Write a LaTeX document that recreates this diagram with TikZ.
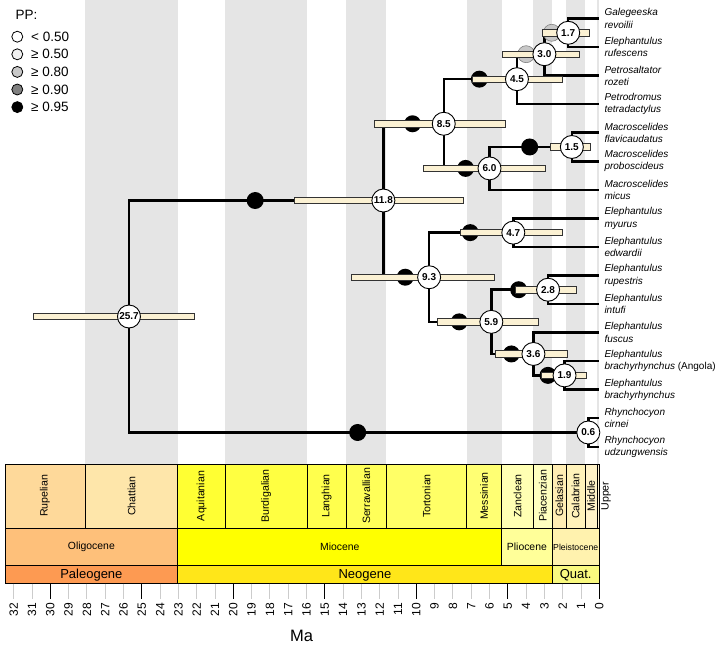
\documentclass[tikz,border=0pt]{standalone}
\usepackage{fontspec}
\setmainfont{Liberation Sans}
\usetikzlibrary{calc}
\definecolor{bandgray}{HTML}{E5E5E5}
\definecolor{hpdfill}{HTML}{FBF1D3}
\definecolor{hpdline}{HTML}{333333}
\definecolor{ppfifty}{HTML}{F0F0F0}
\definecolor{ppeighty}{HTML}{C8C8C8}
\definecolor{ppninety}{HTML}{808080}
\definecolor{minorgray}{HTML}{CCCCCC}
% ICS colours
\definecolor{cPaleogene}{HTML}{FD9A52}
\definecolor{cNeogene}{HTML}{FFE619}
\definecolor{cQuat}{HTML}{F9F97F}
\definecolor{cOligocene}{HTML}{FEC07A}
\definecolor{cMiocene}{HTML}{FFFF00}
\definecolor{cPliocene}{HTML}{FFFF99}
\definecolor{cPleistocene}{HTML}{FFF2AE}
\definecolor{cRupelian}{HTML}{FED99A}
\definecolor{cChattian}{HTML}{FEE6AA}
\definecolor{cAquitanian}{HTML}{FFFF33}
\definecolor{cBurdigalian}{HTML}{FFFF41}
\definecolor{cLanghian}{HTML}{FFFF4D}
\definecolor{cSerravallian}{HTML}{FFFF59}
\definecolor{cTortonian}{HTML}{FFFF66}
\definecolor{cMessinian}{HTML}{FFFF73}
\definecolor{cZanclean}{HTML}{FFFFB3}
\definecolor{cPiacenzian}{HTML}{FFFFBF}
\definecolor{cGelasian}{HTML}{FFEDB3}
\definecolor{cCalabrian}{HTML}{FFF2BA}
\definecolor{cMiddle}{HTML}{FFF2C7}
\definecolor{cUpper}{HTML}{FFF2D3}
\newcommand{\ageX}[1]{(599.3-18.3*(#1))}
\begin{document}
\begin{tikzpicture}[x=1pt,y=-1pt,
  branch/.style={line width=2.5pt, line join=miter},
  hpdbar/.style={draw=hpdline, fill=hpdfill, line width=0.8pt},
  agenode/.style={circle, draw=black, fill=white, line width=0.9pt, minimum size=23pt, inner sep=0pt, font=\fontsize{10}{10}\selectfont\bfseries},
  ppblack/.style={circle, fill=black, minimum size=17pt, inner sep=0pt},
  ppgray/.style={circle, fill=ppeighty, draw=gray, line width=0.6pt, minimum size=17pt, inner sep=0pt},
  legcirc/.style={circle, draw=black, line width=0.8pt, minimum size=11pt, inner sep=0pt},
  legtext/.style={anchor=west, inner sep=0pt, font=\fontsize{13.5}{14}\selectfont},
  tiplab/.style={anchor=west, align=left, inner sep=0pt, font=\fontsize{10}{12.3}\selectfont\itshape},
  tsbox/.style={draw=black, line width=0.8pt},
  stagelab/.style={rotate=90, inner sep=0pt, font=\fontsize{10.6}{11}\selectfont},
  epochlab/.style={inner sep=0pt, font=\fontsize{10.4}{11}\selectfont},
  periodlab/.style={inner sep=0pt, font=\fontsize{13}{14}\selectfont},
  ticklab/.style={rotate=90, anchor=east, inner sep=0pt, font=\fontsize{12}{13}\selectfont}
]
\useasboundingbox (0,0) rectangle (720,648);

% background stage bands
\foreach \a/\b in {28.1/23.03, 20.44/15.97, 13.82/11.63, 7.246/5.333, 3.6/2.58, 1.8/0.781, 0.126/0}
  \fill[bandgray] ({\ageX{\a}},0) rectangle ({\ageX{\b}},464);

% tips
\coordinate (t1) at (599.3,18.5);
\coordinate (t2) at (599.3,47.05);
\coordinate (t3) at (599.3,75.6);
\coordinate (t4) at (599.3,104.15);
\coordinate (t5) at (599.3,132.7);
\coordinate (t6) at (599.3,161.25);
\coordinate (t7) at (599.3,189.8);
\coordinate (t8) at (599.3,218.35);
\coordinate (t9) at (599.3,246.9);
\coordinate (t10) at (599.3,275.45);
\coordinate (t11) at (599.3,304.0);
\coordinate (t12) at (599.3,332.55);
\coordinate (t13) at (599.3,361.1);
\coordinate (t14) at (599.3,389.65);
\coordinate (t15) at (599.3,418.2);
\coordinate (t16) at (599.3,446.75);

% internal nodes
\coordinate (c17) at ({\ageX{1.7}},32.78);
\coordinate (c30) at ({\ageX{3.0}},54.19);
\coordinate (c45) at ({\ageX{4.5}},79.17);
\coordinate (c15) at ({\ageX{1.5}},146.98);
\coordinate (c60) at ({\ageX{6.0}},168.39);
\coordinate (c85) at ({\ageX{8.5}},123.78);
\coordinate (c47) at ({\ageX{4.7}},232.63);
\coordinate (c28) at ({\ageX{2.8}},289.73);
\coordinate (c19) at ({\ageX{1.9}},375.38);
\coordinate (c36) at ({\ageX{3.6}},353.96);
\coordinate (c59) at ({\ageX{5.9}},321.85);
\coordinate (c93) at ({\ageX{9.3}},277.24);
\coordinate (c118) at ({\ageX{11.8}},200.51);
\coordinate (c06) at ({\ageX{0.6}},432.48);
\coordinate (c257) at ({\ageX{25.7}},316.5);

% branches
\foreach \p/\c in {c257/c118, c257/c06, c118/c85, c118/c93, c85/c45, c85/c60,
  c45/c30, c45/t4, c30/c17, c30/t3, c17/t1, c17/t2, c60/c15, c60/t7, c15/t5, c15/t6,
  c93/c47, c93/c59, c47/t8, c47/t9, c59/c28, c59/c36, c28/t10, c28/t11,
  c36/t12, c36/c19, c19/t13, c19/t14, c06/t15, c06/t16}
  \draw[branch] (\p) |- (\c);

% posterior probability circles
\foreach \p/\c in {c257/c118, c257/c06, c118/c85, c118/c93, c85/c45, c85/c60,
  c60/c15, c93/c47, c93/c59, c59/c28, c59/c36, c36/c19}
  \node[ppblack] (pp-\p-\c) at ($(\p |- \c)!0.5!(\c)+(-1,0)$) {};
\foreach \p/\c in {c45/c30, c30/c17}
  \node[ppgray] (pp-\p-\c) at ($(\p |- \c)!0.5!(\c)+(-4.5,0)$) {};

% HPD bars
\foreach \a/\b/\y in {33.7/194.3/316.5, 294/463/200.51, 374.3/505.3/123.78,
  423.3/545/168.39, 472/562.3/79.17, 502.5/579.3/54.19, 542.3/589.3/32.78,
  550.7/590/146.98, 351.7/494.3/277.24, 460/562.7/232.63, 437.7/538.3/321.85,
  515.7/576/289.73, 495/567.3/353.96, 541/586/375.38}
  \draw[hpdbar] (\a,\y-3.2) rectangle (\b,\y+3.2);

% age nodes
\node[agenode] (n257) at (c257) {25.7};
\node[agenode] (n118) at (c118) {11.8};
\node[agenode] (n85) at (c85) {8.5};
\node[agenode] (n60) at (c60) {6.0};
\node[agenode] (n45) at (c45) {4.5};
\node[agenode] (n30) at (c30) {3.0};
\node[agenode] (n17) at (c17) {1.7};
\node[agenode] (n15) at (c15) {1.5};
\node[agenode] (n93) at (c93) {9.3};
\node[agenode] (n47) at (c47) {4.7};
\node[agenode] (n59) at (c59) {5.9};
\node[agenode] (n28) at (c28) {2.8};
\node[agenode] (n36) at (c36) {3.6};
\node[agenode] (n19) at (c19) {1.9};
\node[agenode] (n06) at (c06) {0.6};

% tip labels
\node[tiplab] (l1) at ($(t1)+(5,0)$) {Galegeeska\\revoilii};
\node[tiplab] (l2) at ($(t2)+(5,0)$) {Elephantulus\\rufescens};
\node[tiplab] (l3) at ($(t3)+(5,0)$) {Petrosaltator\\rozeti};
\node[tiplab] (l4) at ($(t4)+(5,0)$) {Petrodromus\\tetradactylus};
\node[tiplab] (l5) at ($(t5)+(5,0)$) {Macroscelides\\flavicaudatus};
\node[tiplab] (l6) at ($(t6)+(5,0)$) {Macroscelides\\proboscideus};
\node[tiplab] (l7) at ($(t7)+(5,0)$) {Macroscelides\\micus};
\node[tiplab] (l8) at ($(t8)+(5,0)$) {Elephantulus\\myurus};
\node[tiplab] (l9) at ($(t9)+(5,0)$) {Elephantulus\\edwardii};
\node[tiplab] (l10) at ($(t10)+(5,0)$) {Elephantulus\\rupestris};
\node[tiplab] (l11) at ($(t11)+(5,0)$) {Elephantulus\\intufi};
\node[tiplab] (l12) at ($(t12)+(5,0)$) {Elephantulus\\fuscus};
\node[tiplab] (l13) at ($(t13)+(5,0)$) {Elephantulus\\brachyrhynchus {\upshape (Angola)}};
\node[tiplab] (l14) at ($(t14)+(5,0)$) {Elephantulus\\brachyrhynchus};
\node[tiplab] (l15) at ($(t15)+(5,0)$) {Rhynchocyon\\cirnei};
\node[tiplab] (l16) at ($(t16)+(5,0)$) {Rhynchocyon\\udzungwensis};

% legend
\node[legtext] (pphead) at (15.5,14.5) {PP:};
\node[legcirc, fill=white] (lg1) at (17.3,36.7) {};
\node[legcirc, fill=ppfifty] (lg2) at (17.3,54.3) {};
\node[legcirc, fill=ppeighty] (lg3) at (17.3,71.9) {};
\node[legcirc, fill=ppninety] (lg4) at (17.3,89.5) {};
\node[legcirc, fill=black] (lg5) at (17.3,107.1) {};
\node[legtext] (lt1) at (31,36.7) {< 0.50};
\node[legtext] (lt2) at (31,54.3) {≥ 0.50};
\node[legtext] (lt3) at (31,71.9) {≥ 0.80};
\node[legtext] (lt4) at (31,89.5) {≥ 0.90};
\node[legtext] (lt5) at (31,107.1) {≥ 0.95};

% stages
\foreach \a/\b/\col/\nm in {32.48/28.1/cRupelian/Rupelian, 28.1/23.03/cChattian/Chattian,
  23.03/20.44/cAquitanian/Aquitanian, 20.44/15.97/cBurdigalian/Burdigalian,
  15.97/13.82/cLanghian/Langhian, 13.82/11.63/cSerravallian/Serravallian,
  11.63/7.246/cTortonian/Tortonian, 7.246/5.333/cMessinian/Messinian,
  5.333/3.6/cZanclean/Zanclean, 3.6/2.58/cPiacenzian/Piacenzian,
  2.58/1.8/cGelasian/Gelasian, 1.8/0.781/cCalabrian/Calabrian,
  0.781/0.126/cMiddle/Middle}
{
  \draw[tsbox, fill=\col] ({\ageX{\a}},464) rectangle ({\ageX{\b}},528.3);
  \node[stagelab] (st-\nm) at ({(\ageX{\a}+\ageX{\b})/2},496) {\nm};
}
\draw[tsbox, fill=cUpper] ({\ageX{0.126}},464) rectangle ({\ageX{0}},528.3);
\node[stagelab] (st-Upper) at (606,496) {Upper};

% epochs
\draw[tsbox, fill=cOligocene] ({\ageX{32.48}},528.3) rectangle ({\ageX{23.03}},565.7);
\draw[tsbox, fill=cMiocene] ({\ageX{23.03}},528.3) rectangle ({\ageX{5.333}},565.7);
\draw[tsbox, fill=cPliocene] ({\ageX{5.333}},528.3) rectangle ({\ageX{2.58}},565.7);
\draw[tsbox, fill=cPleistocene] ({\ageX{2.58}},528.3) rectangle ({\ageX{0}},565.7);
\node[epochlab] (ep-Oligocene) at ({(\ageX{32.48}+\ageX{23.03})/2},547) {Oligocene};
\node[epochlab] (ep-Miocene) at ({(\ageX{23.03}+\ageX{5.333})/2},547) {Miocene};
\node[epochlab] (ep-Pliocene) at ({(\ageX{5.333}+\ageX{2.58})/2},547) {Pliocene};
\node[epochlab, font=\fontsize{8.7}{9}\selectfont] (ep-Pleistocene) at ({(\ageX{2.58}+\ageX{0})/2},547) {Pleistocene};

% periods
\draw[tsbox, fill=cPaleogene] ({\ageX{32.48}},565.7) rectangle ({\ageX{23.03}},583.7);
\draw[tsbox, fill=cNeogene] ({\ageX{23.03}},565.7) rectangle ({\ageX{2.58}},583.7);
\draw[tsbox, fill=cQuat] ({\ageX{2.58}},565.7) rectangle ({\ageX{0}},583.7);
\node[periodlab] (pe-Paleogene) at ({(\ageX{32.48}+\ageX{23.03})/2},575) {Paleogene};
\node[periodlab] (pe-Neogene) at ({(\ageX{23.03}+\ageX{2.58})/2},575) {Neogene};
\node[periodlab] (pe-Quat) at ({(\ageX{2.58}+\ageX{0})/2},575) {Quat.};

% axis ticks and labels
\foreach \i in {0,...,32} {
  \pgfmathtruncatemacro{\rem}{mod(\i,5)}
  \ifnum\rem=0
    \draw[black, line width=0.9pt] ({\ageX{\i}},583.7) -- ({\ageX{\i}},598.5);
  \else
    \draw[minorgray, line width=0.9pt] ({\ageX{\i}},583.7) -- ({\ageX{\i}},598.5);
  \fi
  \node[ticklab] (tk\i) at ({\ageX{\i}},602.5) {\i};
}
\node[anchor=base, inner sep=0pt, font=\fontsize{16.5}{17}\selectfont] (malab) at (301.5,641) {Ma};
\end{tikzpicture}
\end{document}
